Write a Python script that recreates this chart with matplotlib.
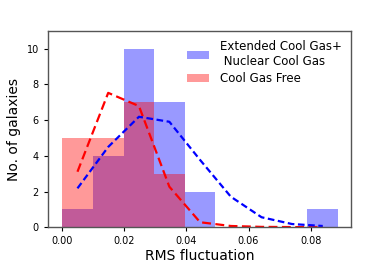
import numpy as np
import matplotlib
matplotlib.use("Agg")
import matplotlib.pyplot as plt

# histogram bins (RMS fluctuation)
bin_edges = np.linspace(0.0, 0.0888, 10)
cool_gas_counts = [1, 4, 10, 7, 2, 0, 0, 0, 1]
free_counts = [5, 5, 7, 3, 0, 0, 0, 0, 0]

# smoothed curves at bin centres
curve_x = [0.0049, 0.0148, 0.0247, 0.0345, 0.0444, 0.0543, 0.0642, 0.0740, 0.0839]
cool_gas_curve = [2.18, 4.5, 6.19, 5.91, 3.77, 1.71, 0.56, 0.18, 0.07]
free_curve = [3.11, 7.53, 6.79, 2.27, 0.28, 0.07, 0.02, 0.01, 0.0]

fig = plt.figure(figsize=(3.9, 2.6), dpi=100)
ax = fig.add_axes([0.123, 0.126, 0.777, 0.755])

centers = (bin_edges[:-1] + bin_edges[1:]) / 2
width = bin_edges[1] - bin_edges[0]
ax.bar(centers, cool_gas_counts, width=width, color='blue', alpha=0.4,
       label='Extended Cool Gas+\n Nuclear Cool Gas')
ax.bar(centers, free_counts, width=width, color='red', alpha=0.4,
       label='Cool Gas Free')

ax.plot(curve_x, free_curve, color='red', lw=1.6, dashes=(4, 2))
ax.plot(curve_x, cool_gas_curve, color='blue', lw=1.6, dashes=(3, 1.6))

ax.set_xlim(-0.0046, 0.093)
ax.set_ylim(0, 11)
ax.set_xticks([0.0, 0.02, 0.04, 0.06, 0.08])
ax.set_yticks([0, 2, 4, 6, 8, 10])
ax.tick_params(labelsize=7, length=3, width=0.8)

ax.set_xlabel('RMS fluctuation', fontsize=10, labelpad=2)
ax.set_ylabel('No. of galaxies', fontsize=10, labelpad=4)

for sp in ax.spines.values():
    sp.set_color('#555555')
    sp.set_linewidth(1.0)

ax.legend(loc='upper right', frameon=False, fontsize=8.5, handlelength=1.9,
          handletextpad=0.9, labelspacing=0.3, borderaxespad=0.4)

fig.savefig('out.png', dpi=100)
